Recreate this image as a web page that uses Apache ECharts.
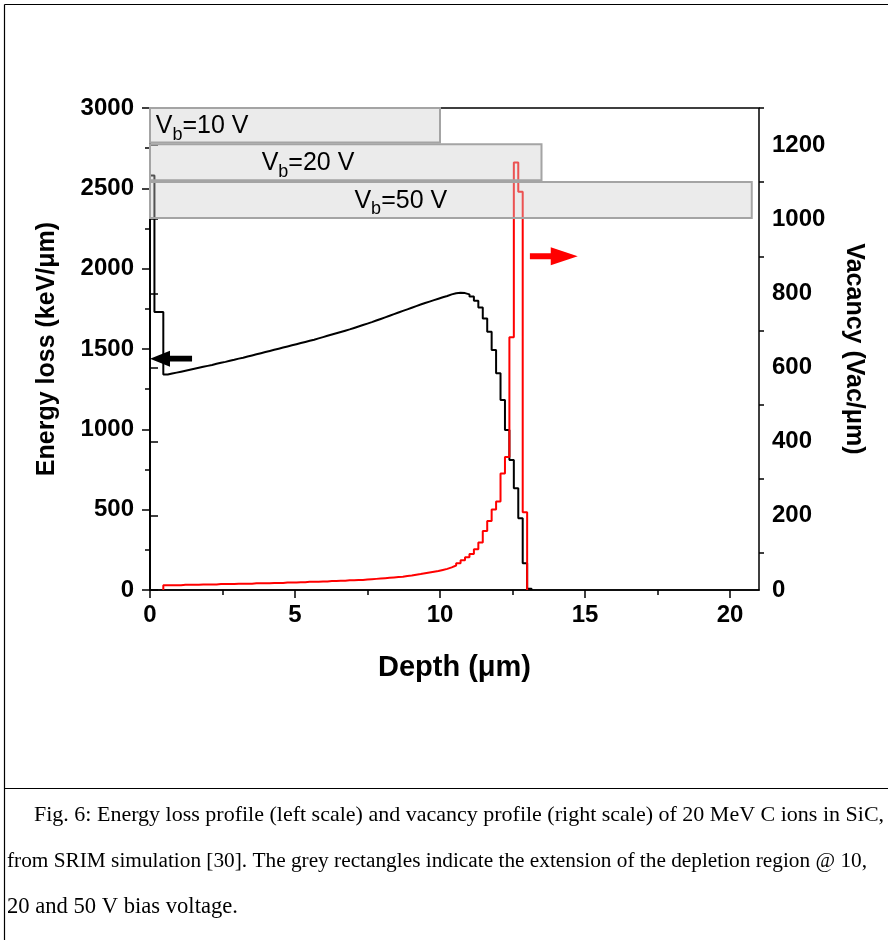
<!DOCTYPE html>
<html><head><meta charset="utf-8">
<script src="https://cdn.jsdelivr.net/npm/echarts@6/dist/echarts.min.js"></script>
<style>html,body{margin:0;padding:0;background:#fff}#c{width:888px;height:940px}</style>
</head><body><div id="c"></div><script>
// Bin start depths (µm)
const depth = [0,0.153,0.306,0.459,0.612,0.765,0.918,1.071,1.224,1.377,1.53,1.683,1.836,1.989,2.142,2.295,2.448,2.601,2.754,2.907,3.06,3.213,3.366,3.519,3.672,3.825,3.978,4.131,4.284,4.437,4.59,4.743,4.896,5.049,5.202,5.355,5.508,5.661,5.814,5.967,6.12,6.273,6.426,6.579,6.732,6.885,7.038,7.191,7.344,7.497,7.65,7.803,7.956,8.109,8.262,8.415,8.568,8.721,8.874,9.027,9.18,9.333,9.486,9.639,9.792,9.945,10.098,10.251,10.404,10.557,10.71,10.863,11.016,11.169,11.322,11.475,11.628,11.781,11.934,12.087,12.24,12.393,12.546,12.699,12.852,13.005,13.158];
// Energy loss (keV/µm), left scale
const energyLoss = [2580,1730,1730,1341,1347,1353,1359,1365,1371,1377,1383,1389,1395,1401,1408,1414,1420,1427,1433,1440,1446,1453,1460,1467,1474,1481,1488,1495,1502,1509,1516,1523,1530,1537,1544,1551,1558,1566,1574,1582,1590,1598,1606,1614,1622,1631,1640,1649,1658,1667,1677,1687,1697,1707,1717,1727,1737,1747,1757,1767,1777,1786,1795,1804,1813,1822,1830,1840,1847,1850,1848,1840,1826,1800,1758,1690,1608,1494,1349,1183,996,809,633,446,166,8,0];
// Vacancy (Vac/µm), right scale
const vacancy = [null,null,null,13,13,13,13,14,14,14,14,15,15,15,15,16,16,16,16,17,17,17,17,18,18,18,18,19,19,19,20,20,20,21,21,22,22,22,23,23,24,24,25,25,26,26,27,27,28,29,30,31,32,33,34,35,36,38,39,41,43,45,47,49,51,54,57,61,66,72,80,88,97,110,128,159,186,217,239,314,359,682,1153,1074,210,0,null];

const xMajorTicks = [0,5,10,15,20];
const xMinorTicks = [2.5,7.5,12.5,17.5];
const vacMajorTicks = [0,200,400,600,800,1000,1200];
const vacMinorTicks = [100,300,500,700,900,1100,1300];

// Depletion regions
const boxVoltage = [10, 20, 50];
const boxEnd = [10.0, 13.5, 20.75];
const boxTop = [3000, 2775, 2540];
const boxBottom = [2785, 2550, 2315];
const boxLabelAt = [0.2, 3.85, 7.05];

// Arrows: [tail depth, tip depth, level]
const arrowLoss = [1.45, 0.0, 1440];
const arrowVac = [13.1, 14.75, 900];

const caption = [
  'Fig. 6: Energy loss profile (left scale) and vacancy profile (right scale) of 20 MeV C ions in SiC,',
  'from SRIM simulation [30]. The grey rectangles indicate the extension of the depletion region @ 10,',
  '20 and 50 V bias voltage.'
];

const FF = '"Liberation Sans", Arial, sans-serif';
const SERIF = '"Liberation Serif", "Times New Roman", serif';
const lossData = depth.map((d, i) => [d, energyLoss[i]]);
const vacData = [[depth[3], 0]];
depth.forEach((d, i) => { if (vacancy[i] !== null) vacData.push([d, vacancy[i]]); });
const boxData = boxVoltage.map((v, i) => [0, boxEnd[i], boxTop[i], boxBottom[i], boxLabelAt[i], v]);

function arrowItem(headLen, headHalf, tailHalf, color) {
  return function (params, api) {
    const p0 = api.coord([api.value(0), api.value(2)]);
    const p1 = api.coord([api.value(1), api.value(2)]);
    const dir = p1[0] > p0[0] ? 1 : -1;
    const y = p0[1];
    const hb = p1[0] - dir * headLen;
    return {
      type: 'polygon',
      shape: { points: [[p0[0], y - tailHalf], [hb, y - tailHalf], [hb, y - headHalf], [p1[0], y], [hb, y + headHalf], [hb, y + tailHalf], [p0[0], y + tailHalf]] },
      style: { fill: color }
    };
  };
}

const plain = v => String(v);
const axisLineStyle = { color: '#000', width: 1.5 };
const labelStyle = { fontSize: 24, fontWeight: 'bold', color: '#000', fontFamily: FF, formatter: plain };
const nameStyle = { fontSize: 25, fontWeight: 'bold', color: '#000', fontFamily: FF };

const chart = echarts.init(document.getElementById('c'));
chart.setOption({
  animation: false,
  backgroundColor: '#fff',
  grid: { left: 150, right: 129, top: 108, bottom: 350, show: true, borderColor: '#000', borderWidth: 1.5, backgroundColor: 'transparent' },
  xAxis: [{
    type: 'value', min: 0, max: 21, interval: 5, position: 'bottom',
    axisLine: { show: true, onZero: false, lineStyle: axisLineStyle },
    axisTick: { show: true, length: 8, lineStyle: axisLineStyle, customValues: xMajorTicks },
    axisLabel: Object.assign({ margin: 13, customValues: xMajorTicks }, labelStyle),
    splitLine: { show: false },
    name: 'Depth (μm)', nameLocation: 'middle', nameGap: 63,
    nameTextStyle: Object.assign({}, nameStyle, { fontSize: 29 })
  }, {
    type: 'value', min: 0, max: 21, position: 'bottom',
    axisLine: { show: false },
    axisTick: { show: true, length: 5, lineStyle: axisLineStyle, customValues: xMinorTicks },
    axisLabel: { show: false }, splitLine: { show: false }
  }],
  yAxis: [{
    type: 'value', min: 0, max: 3000, interval: 500, position: 'left',
    axisLine: { show: true, lineStyle: axisLineStyle },
    axisTick: { show: true, length: 8, lineStyle: axisLineStyle },
    minorTick: { show: true, splitNumber: 2, length: 5, lineStyle: axisLineStyle },
    axisLabel: Object.assign({ margin: 16 }, labelStyle),
    splitLine: { show: false }, minorSplitLine: { show: false },
    name: 'Energy loss (keV/μm)', nameLocation: 'middle', nameGap: 90, nameTextStyle: nameStyle
  }, {
    type: 'value', min: 0, max: 1300, interval: 200, position: 'right',
    axisLine: { show: true, lineStyle: axisLineStyle },
    axisTick: { show: true, length: 8, lineStyle: axisLineStyle, customValues: vacMajorTicks },
    axisLabel: Object.assign({ margin: 13, customValues: vacMajorTicks }, labelStyle),
    splitLine: { show: false },
    name: 'Vacancy (Vac/μm)', nameLocation: 'middle', nameGap: 82, nameRotate: -90, nameTextStyle: nameStyle
  }, {
    type: 'value', min: 0, max: 1300, position: 'right',
    axisLine: { show: false },
    axisTick: { show: true, length: 5, lineStyle: axisLineStyle, customValues: vacMinorTicks },
    axisLabel: { show: false }, splitLine: { show: false }
  }],
  series: [{
    type: 'line', name: 'Energy loss', xAxisIndex: 0, yAxisIndex: 0, data: lossData, step: 'end',
    showSymbol: false, lineStyle: { color: '#000', width: 2 }, z: 2
  }, {
    type: 'line', name: 'Vacancy', xAxisIndex: 0, yAxisIndex: 1, data: vacData, step: 'end',
    showSymbol: false, lineStyle: { color: '#ff0000', width: 2 }, z: 2
  }, {
    type: 'custom', name: 'Depletion', xAxisIndex: 0, yAxisIndex: 0, data: boxData, clip: false, z: 3,
    renderItem: function (params, api) {
      const p0 = api.coord([api.value(0), api.value(2)]);
      const p1 = api.coord([api.value(1), api.value(3)]);
      const pl = api.coord([api.value(4), (api.value(2) + api.value(3)) / 2]);
      return {
        type: 'group', children: [{
          type: 'rect', shape: { x: p0[0], y: p0[1], width: p1[0] - p0[0], height: p1[1] - p0[1] },
          style: { fill: 'rgba(205,205,205,0.4)', stroke: '#a4a4a4', lineWidth: 2 }
        }, {
          type: 'text', x: pl[0], y: pl[1] + 1,
          style: {
            text: '{m|V}{s|b}{m|=' + api.value(5) + ' V}', align: 'left', verticalAlign: 'middle',
            rich: {
              m: { fontSize: 25, fontFamily: FF, fill: '#000', color: '#000' },
              s: { fontSize: 18, fontFamily: FF, fill: '#000', color: '#000', padding: [17, 0, 0, 0] }
            }
          }
        }]
      };
    }
  }, {
    type: 'custom', name: 'arrowLoss', xAxisIndex: 0, yAxisIndex: 0, data: [arrowLoss], clip: false, z: 4,
    renderItem: arrowItem(20, 8, 2.8, '#000')
  }, {
    type: 'custom', name: 'arrowVac', xAxisIndex: 0, yAxisIndex: 1, data: [arrowVac], clip: false, z: 4,
    renderItem: arrowItem(27, 9, 3, '#ff0000')
  }],
  graphic: [
    { type: 'line', shape: { x1: 4.5, y1: 4.5, x2: 888, y2: 4.5 }, style: { stroke: '#000', lineWidth: 1.2 } },
    { type: 'line', shape: { x1: 4.5, y1: 4.5, x2: 4.5, y2: 940 }, style: { stroke: '#000', lineWidth: 1.2 } },
    { type: 'line', shape: { x1: 4.5, y1: 788.5, x2: 888, y2: 788.5 }, style: { stroke: '#000', lineWidth: 1.2 } },
    { type: 'text', x: 34, y: 815, style: { text: caption[0], fontSize: 22, fontFamily: SERIF, fill: '#000', verticalAlign: 'middle' } },
    { type: 'text', x: 7, y: 861, style: { text: caption[1], fontSize: 21.3, fontFamily: SERIF, fill: '#000', verticalAlign: 'middle' } },
    { type: 'text', x: 7, y: 907, style: { text: caption[2], fontSize: 22.6, fontFamily: SERIF, fill: '#000', verticalAlign: 'middle' } }
  ]
});
</script></body></html>
